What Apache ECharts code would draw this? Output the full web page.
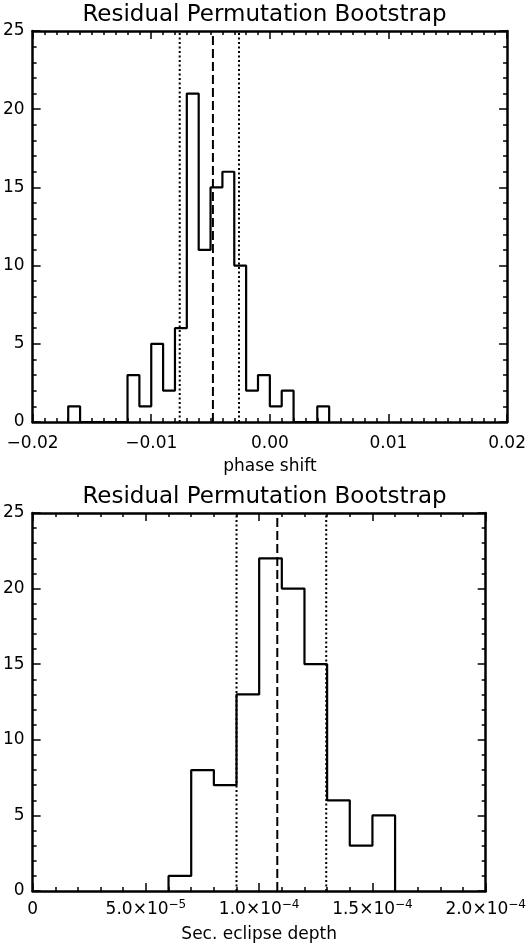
<!DOCTYPE html>
<html>
<head>
<meta charset="utf-8">
<script src="https://cdn.jsdelivr.net/npm/echarts@6/dist/echarts.min.js"></script>
<style>
  html, body { margin: 0; padding: 0; background: #fff; }
  #chart { width: 529px; height: 945px; }
</style>
</head>
<body>
<div id="chart"></div>
<script>
// --- data ---
const titleText = 'Residual Permutation Bootstrap'

// top panel: phase shift histogram, bins of 0.001 starting at -0.017
const phaseBinStart = -0.017
const phaseBinWidth = 0.001
const phaseCounts = [1, 0, 0, 0, 0, 3, 1, 5, 2, 6, 21, 11, 15, 16, 10, 2, 3, 1, 2, 0, 0, 1]
const phaseMedian = -0.0048
const phaseBounds = [-0.0076, -0.0026]
const phaseTicks = { min: -0.02, max: 0.02, step: 0.01 }

// bottom panel: secondary eclipse depth histogram, bins of 1e-5 starting at 6e-5
const depthBinStart = 6e-5
const depthBinWidth = 1e-5
const depthCounts = [1, 8, 7, 13, 22, 20, 15, 6, 3, 5]
const depthMedian = 1.08e-4
const depthBounds = [0.9e-4, 1.296e-4]
const depthTicks = { min: 0, max: 2e-4, step: 5e-5 }

const countTicks = { min: 0, max: 25, step: 5 }

// --- helpers ---
const FONT = 'DejaVu Sans'
const INK = '#000'

function stepPoints(start, width, counts) {
    // histogram outline: start at zero, one point per bin edge, drop back to zero
    let pts = [[start, 0]]
    counts.forEach((c, i) => pts.push([start + i * width, c]))
    pts.push([start + counts.length * width, 0])
    return pts
}

function phaseLabel(v) {
    if (Math.abs(v) < 1e-12) return '0.00'
    return (v < 0 ? '\u2212' : '') + Math.abs(v).toFixed(2)
}

function depthLabel(v) {
    if (Math.abs(v) < 1e-15) return '{m|0}'
    const e = Math.floor(Math.log10(v) + 1e-9)
    const m = v / Math.pow(10, e)
    return `{m|${m.toFixed(1)}\u00d710}{e|\u2212${-e}}`
}

function xAxisPair(gridIndex, t, minorSplit, formatter, name, nameGap, margin, rich) {
    const common = {
        type: 'value',
        gridIndex: gridIndex,
        min: t.min,
        max: t.max,
        interval: t.step,
        axisLine: { show: true, onZero: false, lineStyle: { color: INK, width: 2.5 } },
        axisTick: { show: true, inside: true, length: 8, lineStyle: { color: INK, width: 1.5 } },
        minorTick: { show: true, splitNumber: minorSplit, length: 4, lineStyle: { color: INK, width: 1.5 } },
        splitLine: { show: false },
        minorSplitLine: { show: false },
    }
    return [
        Object.assign({}, common, {
            position: 'bottom',
            name: name,
            nameLocation: 'middle',
            nameGap: nameGap,
            nameTextStyle: { color: INK, fontFamily: FONT, fontSize: 17 },
            axisLabel: {
                color: INK, fontFamily: FONT, fontSize: 17, margin: margin,
                formatter: formatter, rich: rich, showMinLabel: true, showMaxLabel: true,
                hideOverlap: false,
            },
        }),
        Object.assign({}, common, {
            position: 'top',
            axisLabel: { show: false },
        }),
    ]
}

function yAxisPair(gridIndex) {
    const common = {
        type: 'value',
        gridIndex: gridIndex,
        min: countTicks.min,
        max: countTicks.max,
        interval: countTicks.step,
        axisLine: { show: true, onZero: false, lineStyle: { color: INK, width: 2.5 } },
        axisTick: { show: true, inside: true, length: 8, lineStyle: { color: INK, width: 1.5 } },
        minorTick: { show: true, splitNumber: 5, length: 4, lineStyle: { color: INK, width: 1.5 } },
        splitLine: { show: false },
        minorSplitLine: { show: false },
    }
    return [
        Object.assign({}, common, {
            position: 'left',
            axisLabel: { color: INK, fontFamily: FONT, fontSize: 17, margin: 8 },
        }),
        Object.assign({}, common, {
            position: 'right',
            axisLabel: { show: false },
        }),
    ]
}

function histSeries(axisIdx, start, width, counts) {
    return {
        type: 'line',
        xAxisIndex: axisIdx,
        yAxisIndex: axisIdx,
        step: 'end',
        showSymbol: false,
        symbol: 'none',
        silent: true,
        lineStyle: { color: INK, width: 2.2 },
        data: stepPoints(start, width, counts),
    }
}

// a vertical marker from the bottom to the top of the count axis
function vLine(axisIdx, x, dash) {
    return {
        type: 'line',
        xAxisIndex: axisIdx,
        yAxisIndex: axisIdx,
        showSymbol: false,
        symbol: 'none',
        silent: true,
        lineStyle: { color: INK, width: 2, type: dash },
        data: [[x, countTicks.min], [x, countTicks.max]],
    }
}

function markerSeries(axisIdx, median, bounds) {
    const dotted = [2, 2.5]
    const dashed = [9, 4]
    return [
        vLine(axisIdx, bounds[0], dotted),
        vLine(axisIdx, median, dashed),
        vLine(axisIdx, bounds[1], dotted),
    ]
}

const superRich = {
    m: { fontFamily: FONT, fontSize: 17, color: INK, lineHeight: 22 },
    e: { fontFamily: FONT, fontSize: 12, color: INK, lineHeight: 12, verticalAlign: 'top' },
}

const topX = xAxisPair(0, phaseTicks, 10, phaseLabel, 'phase shift', 36, 13, undefined)
const botX = xAxisPair(1, depthTicks, 5, depthLabel, 'Sec. eclipse depth', 35, 8, superRich)

const titleStyle = { fontFamily: FONT, fontSize: 23, fontWeight: 'normal', color: INK }

const options = {
    animation: false,
    backgroundColor: '#fff',
    title: [
        { text: titleText, left: 'center', top: -1, textStyle: titleStyle },
        { text: titleText, left: 'center', top: 481, textStyle: titleStyle },
    ],
    grid: [
        { left: 31, right: 21, top: 31, height: 391 },
        { left: 31, right: 42, top: 513, height: 378 },
    ],
    // axis order: 0 = top panel bottom/left, 1 = top panel top/right, 2 & 3 = bottom panel
    xAxis: [topX[0], topX[1], botX[0], botX[1]],
    yAxis: [].concat(yAxisPair(0), yAxisPair(1)),
    series: [].concat(
        [histSeries(0, phaseBinStart, phaseBinWidth, phaseCounts)],
        markerSeries(0, phaseMedian, phaseBounds),
        [histSeries(2, depthBinStart, depthBinWidth, depthCounts)],
        markerSeries(2, depthMedian, depthBounds)
    ),
}

const chart = echarts.init(document.getElementById('chart'), null, { renderer: 'canvas' })
chart.setOption(options)
</script>
</body>
</html>
